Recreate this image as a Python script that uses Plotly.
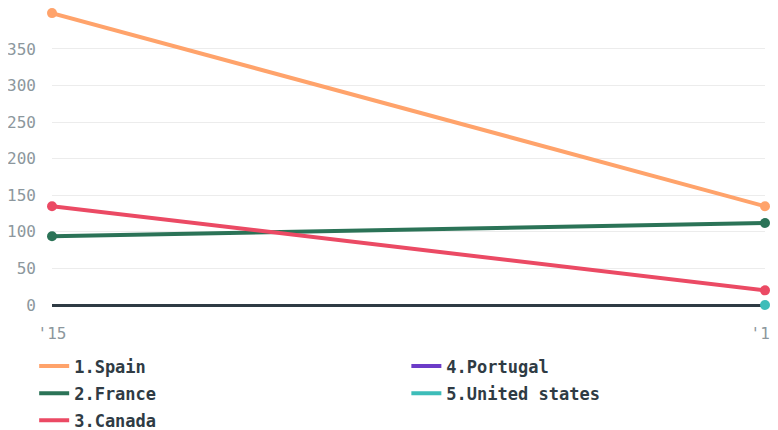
import plotly.graph_objects as go

years = ["'15", "'16"]
spain = [399, 135]
france = [94, 112]
canada = [135, 20]
portugal = [None, None]
united_states = [None, 0]
y_ticks = [0, 50, 100, 150, 200, 250, 300, 350]

series = [
    ("1.Spain", spain, "#ffa36b", "legend"),
    ("2.France", france, "#2b7357", "legend"),
    ("3.Canada", canada, "#eb4a64", "legend"),
    ("4.Portugal", portugal, "#6c3cc8", "legend2"),
    ("5.United states", united_states, "#3dbdb9", "legend2"),
]

fig = go.Figure()
for name, vals, color, lg in series:
    fig.add_trace(go.Scatter(
        x=years, y=vals, name=name, mode="lines",
        line=dict(color=color, width=4),
        cliponaxis=False, legend=lg, legendgroup=name,
    ))
for name, vals, color, lg in series:
    fig.add_trace(go.Scatter(
        x=years, y=vals, name=name, mode="markers",
        marker=dict(color=color, size=10),
        cliponaxis=False, showlegend=False, legendgroup=name,
    ))

legend_font = dict(family="DejaVu Sans Mono", size=17, color="#2f3b44", weight="bold")
tick_font = dict(family="DejaVu Sans Mono", size=16, color="#8c979d")
fig.update_layout(
    width=770, height=422,
    margin=dict(l=44, r=13, t=0, b=125, autoexpand=False),
    plot_bgcolor="white", paper_bgcolor="white",
    showlegend=True,
    legend=dict(x=-0.025, y=-0.1465, xanchor="left", yanchor="top",
                orientation="v", font=legend_font, tracegroupgap=2,
                bgcolor="rgba(0,0,0,0)"),
    legend2=dict(x=0.497, y=-0.1465, xanchor="left", yanchor="top",
                 orientation="v", font=legend_font, tracegroupgap=2,
                 bgcolor="rgba(0,0,0,0)"),
    xaxis=dict(range=[0, 1], showgrid=False, zeroline=False, showline=False,
               ticks="", ticklabelstandoff=17, tickfont=tick_font),
    yaxis=dict(range=[0, 406], tickvals=y_ticks, showgrid=True, gridcolor="#ececec",
               gridwidth=1, zeroline=True, zerolinecolor="#2f3b44", zerolinewidth=3,
               showline=False, ticks="", ticklabelstandoff=15, tickfont=tick_font),
)
fig.write_html("out.html")
